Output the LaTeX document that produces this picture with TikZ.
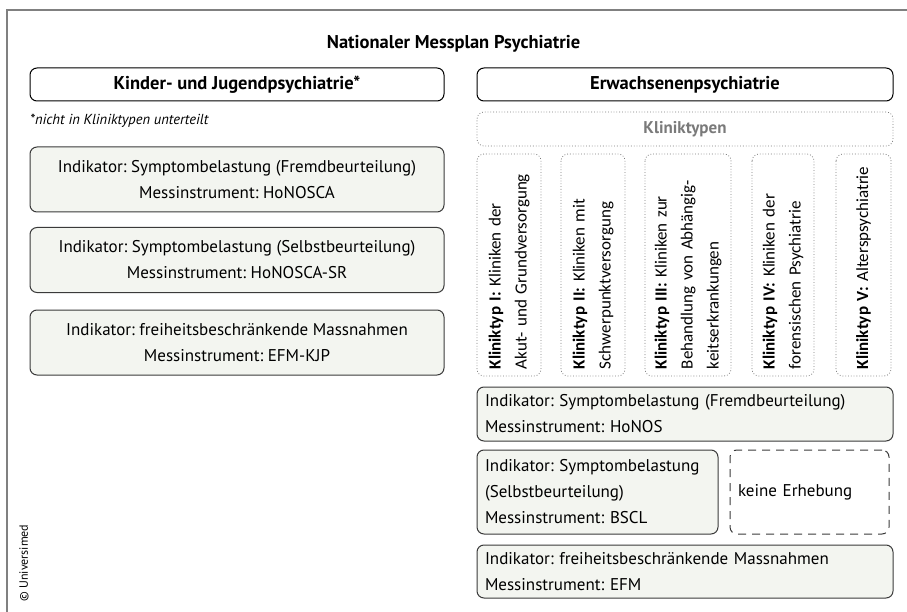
\documentclass[tikz,border=0pt]{standalone}
\usepackage{fontspec}
\setmainfont{PT Sans}
\newfontfamily\typfont{Carlito}
\usetikzlibrary{positioning}
\definecolor{indfill}{HTML}{F3F5F0}
\definecolor{boxline}{HTML}{3A3A3A}
\definecolor{framegray}{HTML}{808080}
\definecolor{typgray}{HTML}{7A7A7A}
\frenchspacing

\begin{document}
\begin{tikzpicture}[x=1pt, y=-1pt,
    every node/.style={font=\fontsize{17}{26}\selectfont, inner sep=0pt},
    headbox/.style={draw=black, line width=1pt, rounded corners=7pt, fill=white,
        minimum height=33pt, font=\fontsize{18.5}{22}\selectfont\bfseries},
    indbox/.style={draw=boxline, line width=1pt, rounded corners=7pt, fill=indfill},
    indleft/.style={indbox, align=left, inner xsep=8pt},
    typbox/.style={draw=typgray, dotted, line width=0.8pt, rounded corners=7pt,
        rotate=90, minimum width=222pt, align=left, inner xsep=7pt,
        text width=208pt, font=\typfont\fontsize{17}{26}\selectfont},
    nonebox/.style={draw=boxline, dashed, dash pattern=on 8pt off 6pt, line width=1pt,
        rounded corners=7pt, align=left, inner xsep=8pt}]
    \useasboundingbox (0,0) rectangle (907,612);
    % frame
    \draw[framegray, line width=2pt] (7,612) -- (7,10) -- (907,10);
    \node[font=\fontsize{18.5}{22}\selectfont\bfseries] (title) at (453.5,44) {Nationaler Messplan Psychiatrie};
    \node[rotate=90, font=\fontsize{12}{14}\selectfont] (copy) at (24,563) {\textcopyright\ Universimed};

    % Kinder- und Jugendpsychiatrie
    \node[headbox, minimum width=414pt] (kjp) at (237,84.5) {Kinder- und Jugendpsychiatrie*};
    \node[anchor=west, font=\fontsize{14.5}{16}\selectfont\itshape] (note) at (30,121) {*nicht in Kliniktypen unterteilt};
    \node[indbox, minimum width=414pt, minimum height=65pt, align=center] (kjp1) at (237,179.5)
        {Indikator: Symptombelastung (Fremdbeurteilung)\\Messinstrument: HoNOSCA};
    \node[indbox, minimum width=414pt, minimum height=65pt, align=center] (kjp2) at (237,260)
        {Indikator: Symptombelastung (Selbstbeurteilung)\\Messinstrument: HoNOSCA-SR};
    \node[indbox, minimum width=414pt, minimum height=65pt, align=center] (kjp3) at (237,342.5)
        {Indikator: freiheitsbeschränkende Massnahmen\\Messinstrument: EFM-KJP};

    % Erwachsenenpsychiatrie
    \node[headbox, minimum width=416pt] (erw) at (685,84.5) {Erwachsenenpsychiatrie};
    \node[draw=typgray, dotted, line width=0.8pt, rounded corners=7pt, minimum width=416pt,
        minimum height=34pt, text=typgray, font=\fontsize{17}{20}\selectfont\bfseries] (typen) at (685,129) {Kliniktypen};
    \node[typbox, minimum height=64pt] (typ1) at (509,265)
        {\textbf{Kliniktyp I:} Kliniken der\\Akut- und Grundversorgung};
    \node[typbox, minimum height=64pt] (typ2) at (593,265)
        {\textbf{Kliniktyp II:} Kliniken mit\\Schwerpunktversorgung};
    \node[typbox, minimum height=86pt] (typ3) at (688,265)
        {\textbf{Kliniktyp III:} Kliniken zur\\Behandlung von Abhängig-\\keitserkrankungen};
    \node[typbox, minimum height=62pt] (typ4) at (783,265)
        {\textbf{Kliniktyp IV:} Kliniken der\\forensischen Psychiatrie};
    \node[typbox, minimum height=55pt] (typ5) at (863.5,265)
        {\textbf{Kliniktyp V:} Alterspsychiatrie};

    \node[indleft, minimum height=54pt, text width=400pt] (erw1) at (685,414)
        {Indikator: Symptombelastung (Fremdbeurteilung)\\Messinstrument: HoNOS};
    \node[indleft, minimum height=84pt, text width=225pt] (erw2) at (597.5,492)
        {Indikator: Symptombelastung\\(Selbstbeurteilung)\\Messinstrument: BSCL};
    \node[nonebox, minimum height=84pt, text width=143pt] (none) at (809.5,492) {keine Erhebung};
    \node[indleft, minimum height=53pt, text width=400pt] (erw3) at (685,571.5)
        {Indikator: freiheitsbeschränkende Massnahmen\\Messinstrument: EFM};
\end{tikzpicture}
\end{document}
